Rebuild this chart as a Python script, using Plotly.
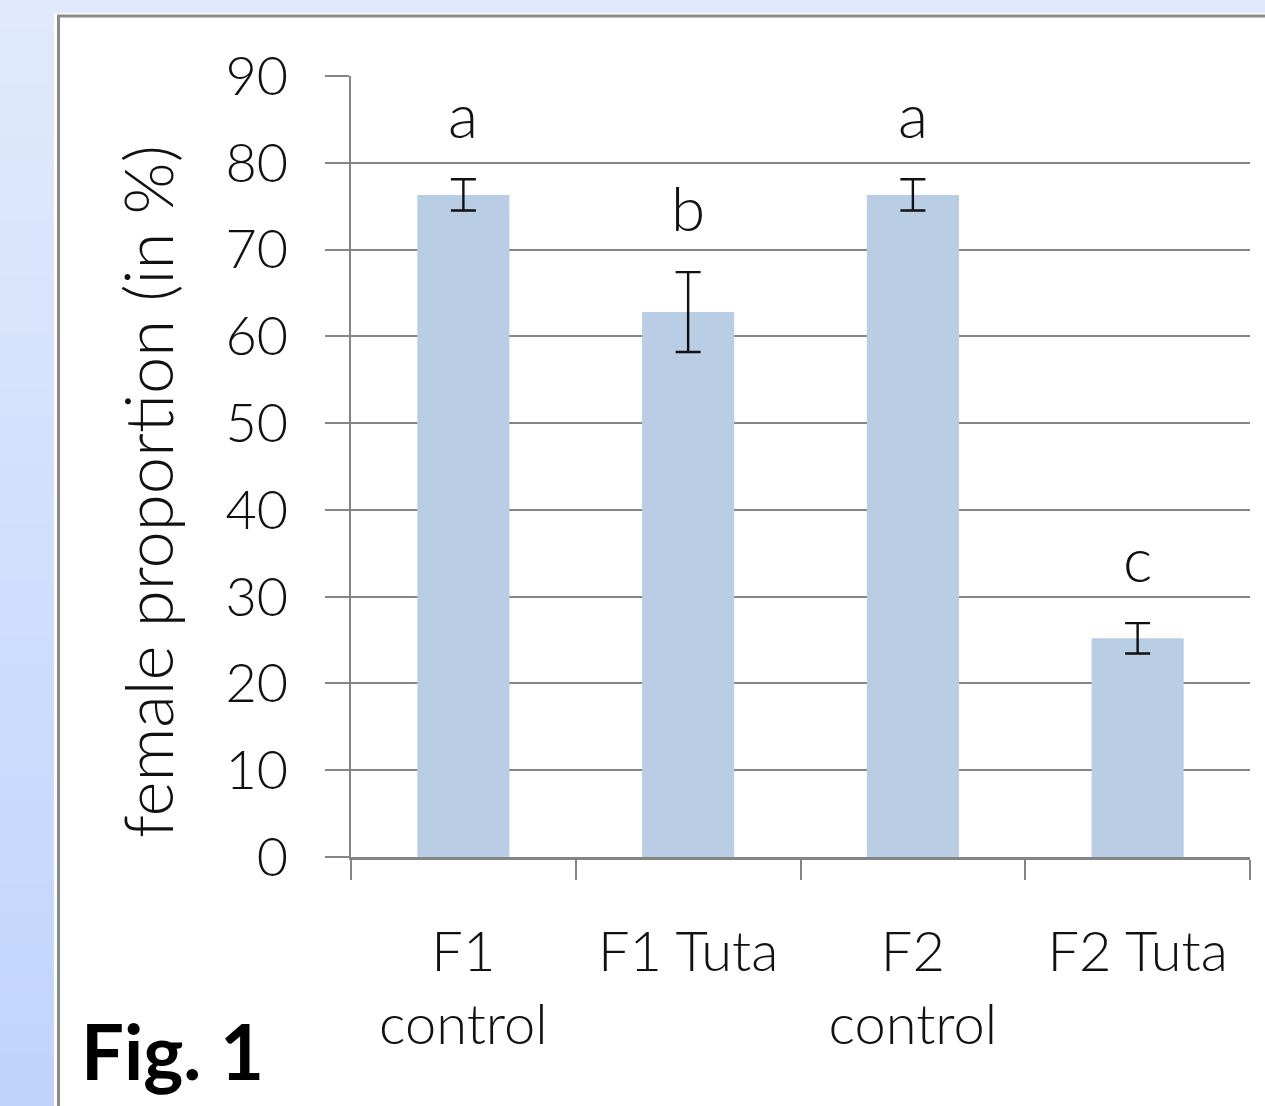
import plotly.graph_objects as go

categories = ["F1<br>control", "F1 Tuta", "F2<br>control", "F2 Tuta"]
female_pct = [76.3, 62.8, 76.3, 25.2]
std_err = [1.8, 4.6, 1.8, 1.75]
sig_letters = ["a", "b", "a", "c"]
y_ticks = [0, 10, 20, 30, 40, 50, 60, 70, 80, 90]

W_FIG, H_FIG = 1265, 1106
L, R, T, B = 351, 15, 76, 249
PW = W_FIG - L - R
PH = H_FIG - T - B


def px_x(px):
    return (px - L) / PW


def px_y(py):
    return (T + PH - py) / PH


def lerp(c1, c2, t):
    return "#%02x%02x%02x" % tuple(int(round(a + (b - a) * t)) for a, b in zip(c1, c2))


shapes = []
# background vertical gradient
N = 40
top_c = (0xE0, 0xEA, 0xFC)
bot_c = (0xC0, 0xD4, 0xFC)
for i in range(N):
    y0 = H_FIG * i / N
    y1 = H_FIG * (i + 1) / N + 1
    shapes.append(dict(type="rect", xref="paper", yref="paper",
                       x0=px_x(-5), x1=px_x(W_FIG + 5), y0=px_y(y1), y1=px_y(y0),
                       fillcolor=lerp(top_c, bot_c, (i + 0.5) / N),
                       line=dict(width=0), layer="below"))
# white panel with gray frame
shapes.append(dict(type="rect", xref="paper", yref="paper",
                   x0=px_x(54), x1=px_x(W_FIG + 20), y0=px_y(H_FIG + 20), y1=px_y(13),
                   fillcolor="white", line=dict(width=0), layer="below"))
shapes.append(dict(type="rect", xref="paper", yref="paper",
                   x0=px_x(58.5), x1=px_x(W_FIG + 20), y0=px_y(H_FIG + 20), y1=px_y(16),
                   fillcolor="white", line=dict(width=3, color="#8a8a8a"), layer="below"))

fig = go.Figure()
fig.add_trace(go.Bar(
    x=categories, y=female_pct, width=0.41,
    marker=dict(color="#b9cde5", line=dict(width=0)),
    error_y=dict(type="data", array=std_err, visible=True,
                 color="#111111", thickness=2.4, width=12.5),
))

FONT = "Lato"
annotations = []
for cat, v, e, s in zip(categories, female_pct, std_err, sig_letters):
    annotations.append(dict(x=cat, y=v + e, xref="x", yref="y", text=s,
                            showarrow=False, yanchor="bottom", yshift=26,
                            font=dict(family=FONT, size=62, color="#111111", weight=300)))
annotations.append(dict(xref="paper", yref="paper", x=px_x(147), y=px_y(492),
                        text="female proportion (in %)", textangle=-90,
                        showarrow=False, xanchor="center", yanchor="middle",
                        font=dict(family=FONT, size=67, color="#111111", weight=300)))
annotations.append(dict(xref="paper", yref="paper", x=px_x(172), y=px_y(1050),
                        text="<b>Fig. 1</b>", showarrow=False,
                        xanchor="center", yanchor="middle",
                        font=dict(family=FONT, size=76, color="#000000")))

fig.update_layout(
    width=W_FIG, height=H_FIG,
    margin=dict(l=L, r=R, t=T, b=B, autoexpand=False),
    paper_bgcolor="#dde8fb", plot_bgcolor="rgba(0,0,0,0)",
    shapes=shapes, annotations=annotations, showlegend=False,
    bargap=0.59,
)
fig.update_xaxes(
    type="category", range=[-0.5, 3.5], showline=True, linecolor="#858585",
    linewidth=2.5, ticks="outside", tickson="boundaries", ticklen=20,
    tickwidth=2, tickcolor="#858585", showgrid=False,
    tickfont=dict(family=FONT, size=56, color="#111111", weight=300),
    ticklabelstandoff=44,
)
fig.update_yaxes(
    range=[0, 90], tickvals=y_ticks, showline=True, linecolor="#858585",
    linewidth=2, ticks="outside", ticklen=24, tickwidth=2, tickcolor="#858585",
    showgrid=True, gridcolor="#858585", gridwidth=2, zeroline=False,
    tickfont=dict(family=FONT, size=54, color="#111111", weight=300),
    ticklabelstandoff=26,
)

fig.write_html(
    "out.html",
    config={"displayModeBar": False},
    post_script="document.body.style.margin='0';document.body.style.overflow='hidden';",
)
